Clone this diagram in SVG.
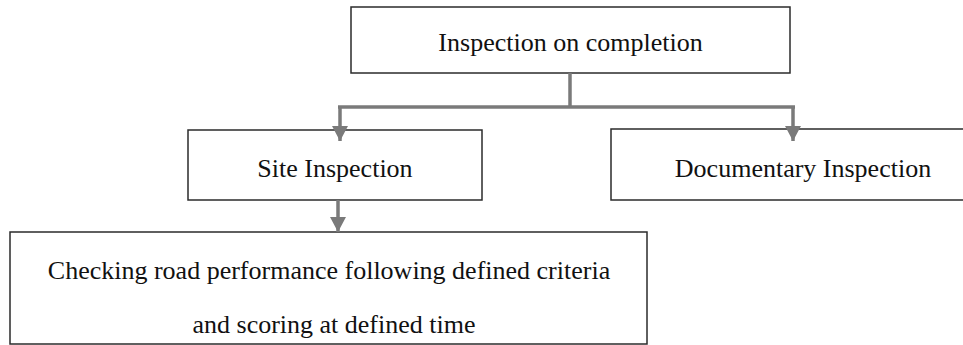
<svg xmlns="http://www.w3.org/2000/svg" width="963" height="345" viewBox="0 0 963 345">
  <style>
    .box { fill: #ffffff; stroke: #2b2b2b; stroke-width: 1.5; }
    .label { font-family: "Liberation Serif", "Times New Roman", serif; font-size: 26px; fill: #111111; text-anchor: middle; }
    .wire { fill: none; stroke: #7a7a7a; stroke-width: 3.5; }
  </style>
  <defs>
    <marker id="arrow" markerUnits="userSpaceOnUse" markerWidth="18" markerHeight="16" refX="15" refY="8" orient="auto">
      <path d="M0,0 L15,8 L0,16 Z" fill="#7a7a7a"/>
    </marker>
  </defs>

  <rect width="963" height="345" fill="#ffffff"/>

  <g id="node-completion">
    <rect class="box" x="351" y="7" width="439" height="66"/>
    <text class="label" x="570.5" y="51">Inspection on completion</text>
  </g>

  <g id="node-site">
    <rect class="box" x="188" y="130" width="294" height="70"/>
    <text class="label" x="335" y="177">Site Inspection</text>
  </g>

  <g id="node-documentary">
    <rect class="box" x="611" y="129" width="390" height="71"/>
    <text class="label" x="803" y="177">Documentary Inspection</text>
  </g>

  <g id="node-checking">
    <rect class="box" x="10" y="232" width="637" height="112"/>
    <text class="label" x="329" y="279">Checking road performance following defined criteria</text>
    <text class="label" x="334" y="333">and scoring at defined time</text>
  </g>

  <g id="connectors">
    <path class="wire" d="M570,73 V107"/>
    <path class="wire" d="M338,107 H795"/>
    <path class="wire" d="M340,107 V141" marker-end="url(#arrow)"/>
    <path class="wire" d="M793,107 V141" marker-end="url(#arrow)"/>
    <path class="wire" d="M338,200 V232" marker-end="url(#arrow)"/>
  </g>
</svg>
